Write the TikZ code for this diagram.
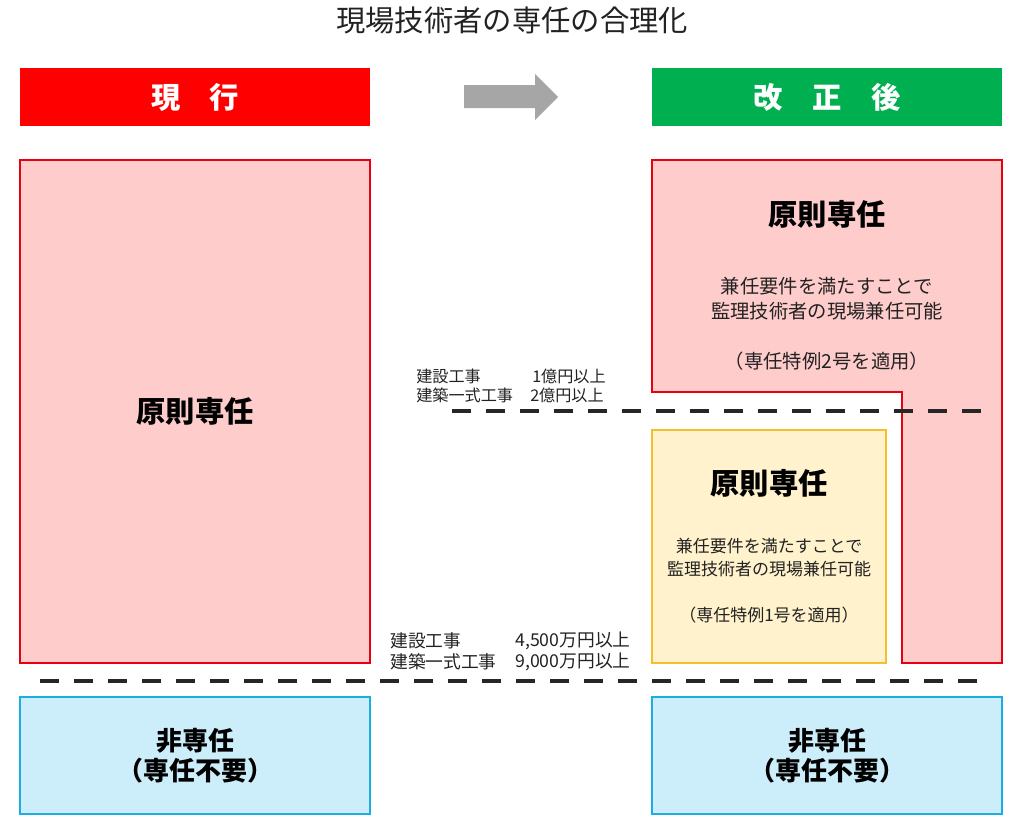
\documentclass[tikz,border=0pt]{standalone}
\usepackage{fontspec}
\setmainfont{Noto Sans CJK JP}
\definecolor{nowred}{HTML}{FF0000}
\definecolor{newgreen}{HTML}{00B050}
\definecolor{pinkfill}{HTML}{FFCCCC}
\definecolor{pinkline}{HTML}{E60012}
\definecolor{yellowfill}{HTML}{FFF2CC}
\definecolor{yellowline}{HTML}{F5C02E}
\definecolor{bluefill}{HTML}{CCEEFA}
\definecolor{blueline}{HTML}{1AAEE3}
\definecolor{arrowgray}{HTML}{A6A6A6}
\definecolor{dashgray}{HTML}{262626}
\definecolor{labelgray}{HTML}{222222}
\begin{document}
\begin{tikzpicture}[x=0.75pt,y=-0.75pt,
    header/.style={minimum width=262.5pt, minimum height=43.5pt, inner sep=0pt,
      text=white, font=\bfseries\fontsize{22}{26}\selectfont},
    bigtext/.style={font=\bfseries\fontsize{22}{26}\selectfont},
    notetext/.style={align=center, text=labelgray, font=\fontsize{14.5}{18.75}\selectfont},
    smallnote/.style={align=center, text=labelgray, font=\fontsize{12.75}{17.25}\selectfont},
    bluebox/.style={draw=blueline, line width=1.8pt, fill=bluefill,
      minimum width=262.5pt, minimum height=87.75pt, align=center,
      font=\bfseries\fontsize{19.5}{22.5}\selectfont},
    limit/.style={anchor=west, inner sep=0pt, text=labelgray},
    divider/.style={dashgray, line width=3.5pt, dash pattern=on 14pt off 11.5pt}]
    \useasboundingbox (0,0) rectangle (1024,828);

    % Title
    \node[text=labelgray, font=\fontsize{22}{26}\selectfont] (title) at (512,20) {現場技術者の専任の合理化};

    % Headers
    \node[header, fill=nowred] (now) at (195,97) {現　行};
    \node[header, fill=newgreen] (new) at (827,97) {改　正　後};
    \fill[arrowgray] (464,85) -- (535,85) -- (535,74) -- (558,97)
        -- (535,120) -- (535,108) -- (464,108) -- cycle;

    % Current
    \node[draw=pinkline, line width=1.5pt, fill=pinkfill, minimum width=262.5pt,
        minimum height=377.25pt, bigtext] (nowmain) at (195,411.5) {原則専任};
    \node[bluebox] (nowfree) at (195,755.5) {非専任\\（専任不要）};

    % Revised
    \draw[pinkline, line width=1.5pt, fill=pinkfill] (652,160) -- (1002,160) -- (1002,663)
        -- (902,663) -- (902,392) -- (652,392) -- cycle;
    \node[bigtext] (special2) at (827,214) {原則専任};
    \node[notetext] (special2note) at (827,324)
        {兼任要件を満たすことで\\監理技術者の現場兼任可能\\[18.75pt]（専任特例2号を適用）};
    \node[draw=yellowline, line width=1.5pt, fill=yellowfill, minimum width=175.5pt,
        minimum height=174.75pt] (special1box) at (769,546.5) {};
    \node[bigtext] (special1) at (769,483) {原則専任};
    \node[smallnote] (special1note) at (769,581)
        {兼任要件を満たすことで\\監理技術者の現場兼任可能\\[17.25pt]（専任特例1号を適用）};
    \node[bluebox] (newfree) at (827,755.5) {非専任\\（専任不要）};

    % Thresholds
    \draw[divider] (452,411) -- (982,411);
    \draw[divider] (40,681) -- (982,681);
    \node[limit, font=\fontsize{12.1}{14}\selectfont] (upkind1) at (416,376) {建設工事};
    \node[limit, font=\fontsize{12.1}{14}\selectfont] (upsum1) at (532,376) {1億円以上};
    \node[limit, font=\fontsize{12.1}{14}\selectfont] (upkind2) at (416,395) {建築一式工事};
    \node[limit, font=\fontsize{12.1}{14}\selectfont] (upsum2) at (530,395) {2億円以上};
    \node[limit, font=\fontsize{13.3}{15}\selectfont] (lowkind1) at (390,641) {建設工事};
    \node[limit, font=\fontsize{13.3}{15}\selectfont] (lowsum1) at (515,641) {4,500万円以上};
    \node[limit, font=\fontsize{13.3}{15}\selectfont] (lowkind2) at (390,662) {建築一式工事};
    \node[limit, font=\fontsize{13.3}{15}\selectfont] (lowsum2) at (515,662) {9,000万円以上};
\end{tikzpicture}
\end{document}
